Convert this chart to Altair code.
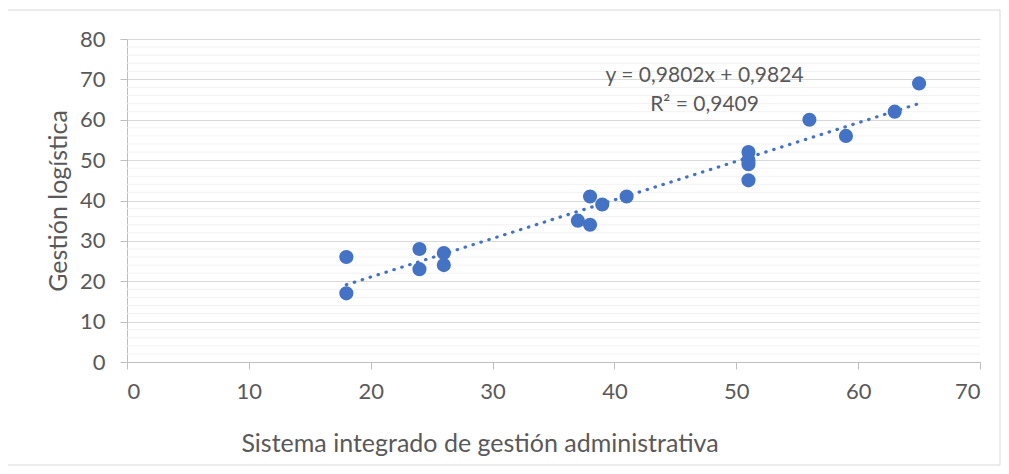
import altair as alt
import pandas as pd

# Data
x_vals = [18, 18, 24, 24, 26, 26, 37, 38, 38, 39, 41, 51, 51, 51, 51, 56, 59, 63, 65]
y_vals = [26, 17, 28, 23, 27, 24, 35, 41, 34, 39, 41, 52, 50, 49, 45, 60, 56, 62, 69]

eq_lines = ["y = 0,9802x + 0,9824", "R² = 0,9409"]
eq_x = [47.4, 47.4]
eq_y = [69.3, 62.2]

x_ticks = [0, 10, 20, 30, 40, 50, 60, 70]
y_ticks = [0, 10, 20, 30, 40, 50, 60, 70, 80]
minor_y = [v for v in range(2, 80, 2) if v % 10 != 0]

x_title = "Sistema integrado de gestión administrativa"
y_title = "Gestión logística"

FONT = "Lato"
TXT = "#595959"
BLUE = "#4472C4"

df = pd.DataFrame({"x": x_vals, "y": y_vals})
eq_df = pd.DataFrame({"x": eq_x, "y": eq_y, "t": eq_lines})
minor_df = pd.DataFrame({"y": minor_y})

xs = alt.Scale(domain=[0, 70], nice=False, zero=False)
ys = alt.Scale(domain=[0, 80], nice=False, zero=False)

x_axis = alt.Axis(
    values=x_ticks, grid=False, title=x_title, labelFontSize=22, labelFont=FONT,
    labelColor=TXT, labelPadding=12, tickSize=7, tickColor="#bfbfbf", domainColor="#bfbfbf",
    titleFont=FONT, titleFontSize=25, titleColor=TXT, titleFontWeight="normal",
    titleX=352.5, titleY=89, titleAlign="center", titleBaseline="alphabetic",
)
y_axis = alt.Axis(
    values=y_ticks, grid=True, gridColor="#d9d9d9", title=y_title, labelFontSize=22,
    labelFont=FONT, labelColor=TXT, labelPadding=15, tickSize=7, tickColor="#bfbfbf",
    domainColor="#bfbfbf", titleFont=FONT, titleFontSize=25, titleColor=TXT,
    titleFontWeight="normal", titleAngle=-90, titleX=-61, titleY=161.5,
    titleAlign="center", titleBaseline="alphabetic",
)

frame = alt.Chart(pd.DataFrame({"a": [0]})).mark_rect(
    fillOpacity=0, stroke="#d9d9d9", strokeWidth=1, clip=False
).encode(
    x=alt.value(-120), x2=alt.value(873), y=alt.value(-29), y2=alt.value(426)
)

minor = alt.Chart(minor_df).mark_rule(color="#f2f2f2", strokeWidth=1).encode(
    y=alt.Y("y:Q", scale=ys, axis=y_axis)
)

points = alt.Chart(df).mark_circle(size=200, color=BLUE, opacity=1).encode(
    x=alt.X("x:Q", scale=xs, axis=x_axis),
    y=alt.Y("y:Q", scale=ys, axis=y_axis),
)

trend = alt.Chart(df).transform_regression("x", "y").mark_line(
    color=BLUE, strokeWidth=3.2, strokeDash=[0.5, 7.8], strokeCap="round"
).encode(
    x=alt.X("x:Q", scale=xs, axis=x_axis),
    y=alt.Y("y:Q", scale=ys, axis=y_axis),
)

eq = alt.Chart(eq_df).mark_text(
    font=FONT, fontSize=21, color=TXT, align="center", baseline="alphabetic"
).encode(
    x=alt.X("x:Q", scale=xs, axis=x_axis),
    y=alt.Y("y:Q", scale=ys, axis=y_axis),
    text="t:N",
)

chart = alt.layer(frame, minor, points, trend, eq).properties(
    width=853, height=323,
    autosize=alt.AutoSizeParams(type="none"),
    padding={"left": 119, "top": 31, "right": 21, "bottom": 104},
).configure_view(strokeWidth=0)

chart.save("out.html", embed_options={"renderer": "svg", "actions": False})
